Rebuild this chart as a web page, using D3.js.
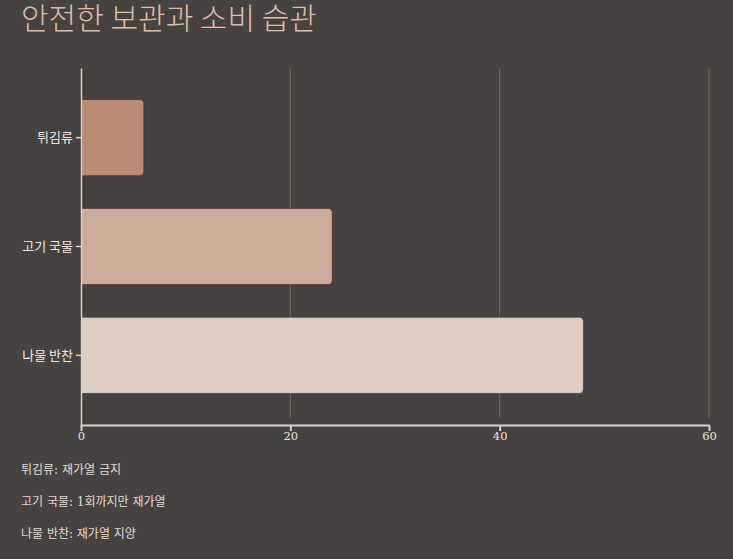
<!DOCTYPE html>
<html>
<head>
<meta charset="utf-8">
<script src="https://cdn.jsdelivr.net/npm/d3@7"></script>
<style>
  html, body { margin: 0; padding: 0; background: #464241; }
  svg { display: block; }
  .axis text { font-family: "DejaVu Serif", Georgia, serif; font-size: 11.5px; fill: #ece4de; }
  .y.axis text { font-family: "Noto Sans CJK KR", sans-serif; font-size: 13px; fill: #f2e8e0; }
  .axis path, .axis line { stroke: #d9d3cf; }
</style>
</head>
<body>
<script>
// data
const categories = ["튀김류", "고기 국물", "나물 반찬"];
const values = [6, 24, 48];
const colors = ["#b88a72", "#ccab9b", "#e0cdc2"];
const notes = ["튀김류: 재가열 금지", "고기 국물: 1회까지만 재가열", "나물 반찬: 재가열 지양"];
const xTicks = [0, 20, 40, 60];
const title = "안전한 보관과 소비 습관";

const width = 733, height = 559;
const margin = {top: 68, right: 24, bottom: 134, left: 81};

const svg = d3.select("body").append("svg")
    .attr("width", width)
    .attr("height", height);

svg.append("text")
    .attr("x", 21)
    .attr("y", 29)
    .attr("fill", "#e2bca6")
    .style("font-family", "'Noto Sans CJK KR', sans-serif")
    .style("font-size", "30px")
    .style("font-weight", 300)
    .text(title);

const x = d3.scaleLinear()
    .domain([0, 60])
    .range([margin.left, width - margin.right]);

const y = d3.scaleBand()
    .domain(categories)
    .range([margin.top, height - margin.bottom])
    .paddingInner(0.3)
    .paddingOuter(0.29);

// vertical grid
svg.append("g")
    .selectAll("line")
    .data(xTicks.slice(1))
    .join("line")
    .attr("x1", d => x(d)).attr("x2", d => x(d))
    .attr("y1", margin.top).attr("y2", height - margin.bottom - 7)
    .attr("stroke", "#6e6a68")
    .attr("stroke-width", 1);

// bars: flat left edge, rounded right
const r = 4;
svg.append("g")
    .selectAll("path")
    .data(values)
    .join("path")
    .attr("d", (d, i) => {
        const x0 = x(0), x1 = x(d), y0 = y(categories[i]), h = y.bandwidth();
        return `M${x0},${y0}H${x1 - r}Q${x1},${y0} ${x1},${y0 + r}V${y0 + h - r}Q${x1},${y0 + h} ${x1 - r},${y0 + h}H${x0}Z`;
    })
    .attr("fill", (d, i) => colors[i])
    .attr("stroke", "#2e2b2a")
    .attr("stroke-opacity", 0.6)
    .attr("stroke-width", 1);

svg.append("g")
    .attr("class", "x axis")
    .attr("transform", `translate(0,${height - margin.bottom})`)
    .call(d3.axisBottom(x).tickValues(xTicks).tickSize(6).tickSizeOuter(0))
    .call(g => g.select(".domain").attr("stroke-width", 2))
    .call(g => g.selectAll(".tick line").attr("stroke-width", 2))
    .call(g => g.selectAll("text").attr("dy", "0.55em"));

svg.append("g")
    .attr("class", "y axis")
    .attr("transform", `translate(${margin.left},0)`)
    .call(d3.axisLeft(y).tickSize(5).tickSizeOuter(0))
    .call(g => g.select(".domain").attr("stroke-width", 1.5))
    .call(g => g.selectAll(".tick line").attr("stroke-width", 1.5));

svg.append("g")
    .selectAll("text")
    .data(notes)
    .join("text")
    .attr("x", 21)
    .attr("y", (d, i) => 474 + i * 32)
    .attr("fill", "#e6dad2")
    .style("font-family", "'DejaVu Serif', 'Noto Sans CJK KR', serif")
    .style("font-size", "12px")
    .text(d => d);
</script>
</body>
</html>
